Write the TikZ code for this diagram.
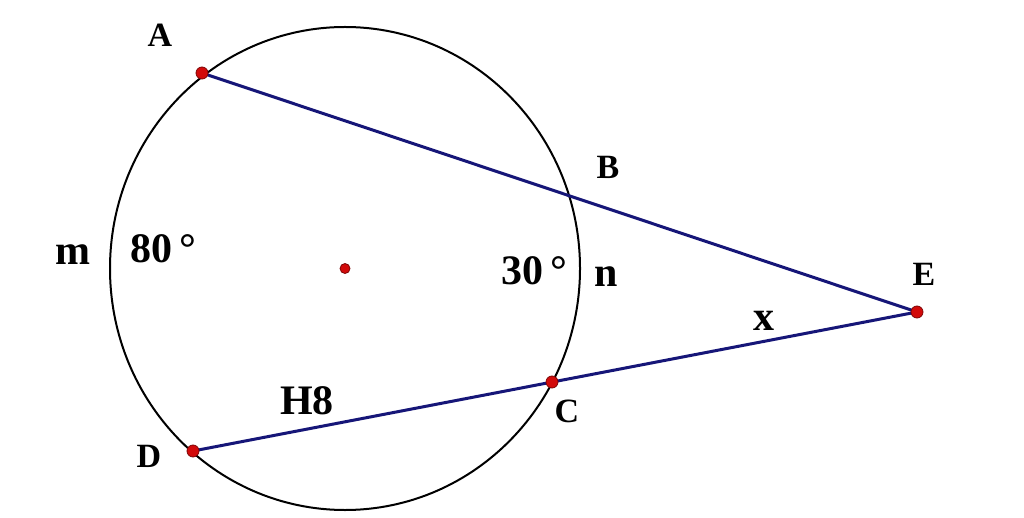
\documentclass[tikz,border=0pt]{standalone}
\usepackage{fontspec}
\setmainfont{Liberation Serif}
\begin{document}
\begin{tikzpicture}[x=1pt,y=-1pt,
  seg/.style={draw=segblue,line width=3pt},
  circ/.style={draw=black,line width=2pt},
  dot/.style={circle,fill=dotred,draw=dotred!60!black,line width=0.8pt,inner sep=0pt,minimum size=12pt},
  lbl/.style={inner sep=0pt,font=\bfseries\fontsize{34}{40}\selectfont},
  big/.style={inner sep=0pt,font=\bfseries\fontsize{42}{48}\selectfont}]
\definecolor{segblue}{RGB}{22,22,120}
\definecolor{dotred}{RGB}{210,10,10}
\useasboundingbox[fill=white] (0,0) rectangle (1024,518);
\coordinate (O) at (345,268.5);
\coordinate (A) at (202,73);
\coordinate (E) at (917,312);
\coordinate (C) at (552,382);
\coordinate (D) at (193,451);
\draw[circ] (O) ellipse [x radius=235, y radius=241.5];
\draw[seg] (A) -- (E);
\draw[seg] (D) -- (E);
\node[dot] (Adot) at (A) {};
\node[dot] (Edot) at (E) {};
\node[dot] (Cdot) at (C) {};
\node[dot] (Ddot) at (D) {};
\node[dot,minimum size=10pt] (Odot) at (O) {};
\node[lbl] (lA) at (160,35) {A};
\node[lbl] (lB) at (608,167) {B};
\node[lbl] (lC) at (567,411) {C};
\node[lbl] (lD) at (149,456) {D};
\node[lbl] (lE) at (924,274) {E};
\node[big,anchor=base] (lm) at (73,265) {m};
\node[big,anchor=base] (ln) at (606,287) {n};
\node[big,anchor=base] (lx) at (764,330) {x};
\node[big] (l80) at (163,249) {80\,°};
\node[big] (l30) at (534,271) {30\,°};
\node[big] (lH8) at (307,401) {H8};
\end{tikzpicture}
\end{document}
